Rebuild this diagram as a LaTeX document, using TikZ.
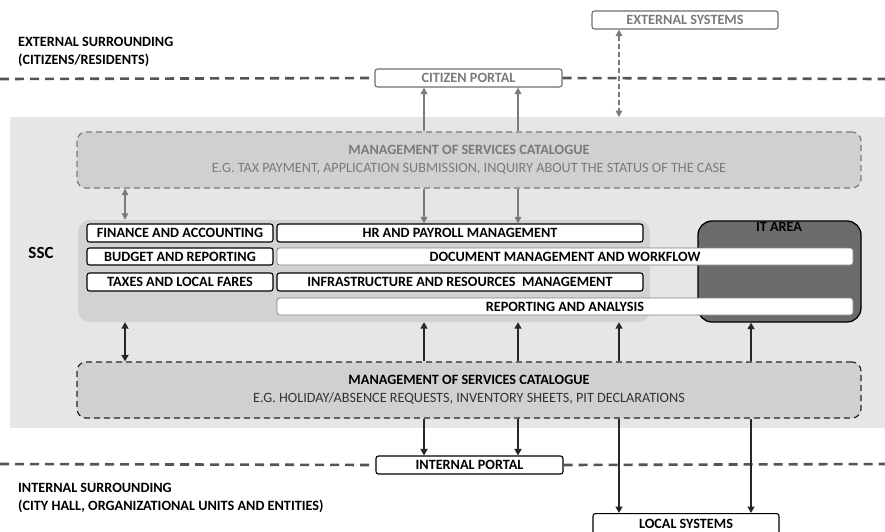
\documentclass[tikz,border=0pt]{standalone}
\usepackage{fontspec}
\setmainfont{Carlito}
\usetikzlibrary{arrows.meta}
\definecolor{bgssc}{HTML}{E6E6E6}
\definecolor{catfill}{HTML}{D0D0D0}
\definecolor{grpfill}{HTML}{D2D2D2}
\definecolor{itfill}{HTML}{6B6B6B}
\definecolor{linegray}{HTML}{555555}
\definecolor{softgray}{HTML}{7A7A7A}
\newcommand{\lbl}{\fontsize{14.2}{16}\selectfont}
\tikzset{
  box/.style={draw, rounded corners=2.5pt, inner sep=0pt, line width=1.1pt, font=\bfseries\lbl},
  modbox/.style={box, fill=white, draw=black},
  widebox/.style={box, fill=white, draw=gray, line width=0.8pt},
  portal/.style={box, fill=white},
  catbox/.style={draw, dash pattern=on 6pt off 4pt, line width=1.2pt, rounded corners=9pt, fill=catfill, inner sep=0pt, align=center, font=\fontsize{14.2}{17.5}\selectfont},
  zone/.style={draw=linegray, line width=2.6pt, dash pattern=on 9pt off 6pt},
  garrow/.style={draw=softgray, line width=2.2pt, -{Triangle[length=6.5pt,width=6.5pt]}},
  barrow/.style={draw=black!85, line width=2.8pt, -{Triangle[length=6.5pt,width=7pt]}},
  zonelabel/.style={anchor=west, align=left, font=\bfseries\fontsize{14.2}{18.5}\selectfont, inner sep=0pt},
}
\begin{document}
\begin{tikzpicture}[x=1pt, y=-1pt]
\clip (0,0) rectangle (885,531);
\fill[white] (0,0) rectangle (885,531);

% shared services centre background
\fill[bgssc] (10,117) rectangle (890,428);
\node[font=\bfseries\fontsize{17}{19}\selectfont] (ssc) at (41,253) {SSC};

% zone labels
\node[zonelabel] (ext) at (18,52) {EXTERNAL SURROUNDING\\(CITIZENS/RESIDENTS)};
\node[zonelabel] (int) at (18,498) {INTERNAL SURROUNDING\\(CITY HALL, ORGANIZATIONAL UNITS AND ENTITIES)};

% portals and outer systems
\node[portal, draw=softgray!90!black, text=softgray, minimum width=187pt, minimum height=18pt] (citportal) at (468.5,78) {CITIZEN PORTAL};
\node[portal, draw=softgray!90!black, text=softgray, minimum width=186pt, minimum height=18pt] (extsys) at (685,20) {EXTERNAL SYSTEMS};
\node[portal, draw=black, minimum width=187pt, minimum height=18pt] (intportal) at (469.5,465) {INTERNAL PORTAL};
\node[portal, draw=black, minimum width=186pt, minimum height=24pt, anchor=north] (localsys) at (686,513) {\raisebox{3pt}{LOCAL SYSTEMS}};

% zone boundaries
\draw[zone] (0,79) -- (citportal.west);
\draw[zone] (citportal.east) -- (885,79);
\draw[zone] (0,464) -- (intportal.west);
\draw[zone] (intportal.east) -- (885,464);

% services catalogues
\node[catbox, draw=softgray, text=softgray, minimum width=784pt, minimum height=56pt] (catup) at (469,160)
  {\textbf{MANAGEMENT OF SERVICES CATALOGUE}\\
   E.G. TAX PAYMENT, APPLICATION SUBMISSION, INQUIRY ABOUT THE STATUS OF THE CASE};
\node[catbox, draw=black!85, minimum width=784pt, minimum height=56pt] (catlow) at (469,390)
  {\textbf{MANAGEMENT OF SERVICES CATALOGUE}\\
   \textcolor{black!80}{E.G. HOLIDAY/ABSENCE REQUESTS, INVENTORY SHEETS, PIT DECLARATIONS}};

% functional group and IT area
\node[fill=grpfill, rounded corners=12pt, minimum width=572pt, minimum height=102pt, inner sep=0pt] (group) at (364,271) {};
\node[fill=itfill, draw=black, line width=1.3pt, rounded corners=14pt, minimum width=163pt, minimum height=101pt, inner sep=0pt] (itarea) at (779.5,271.5) {};
\node[font=\bfseries\lbl, anchor=north, inner sep=0pt] (itlabel) at (779,222.5) {IT AREA};

% functional modules
\node[modbox, minimum width=186pt, minimum height=18pt] (finance) at (180,233) {FINANCE AND ACCOUNTING};
\node[modbox, minimum width=186pt, minimum height=17pt] (budget) at (180,256.5) {BUDGET AND REPORTING};
\node[modbox, minimum width=186pt, minimum height=18pt] (taxes) at (180,282) {TAXES AND LOCAL FARES};
\node[modbox, minimum width=366pt, minimum height=18pt] (hr) at (460,233) {HR AND PAYROLL MANAGEMENT};
\node[widebox, minimum width=576pt, minimum height=17pt] (doc) at (565,256.5) {DOCUMENT MANAGEMENT AND WORKFLOW};
\node[modbox, minimum width=366pt, minimum height=18pt] (infra) at (460,282) {INFRASTRUCTURE AND RESOURCES\ \ MANAGEMENT};
\node[widebox, minimum width=576pt, minimum height=17pt] (report) at (565,306.5) {REPORTING AND ANALYSIS};

% connector columns
\coordinate (xa) at (125,0);
\coordinate (xb) at (424,0);
\coordinate (xc) at (518,0);
\coordinate (xd) at (619,0);
\coordinate (xe) at (751,0);

% citizen side
\draw[garrow] (catup.north -| xb) -- (citportal.south -| xb);
\draw[garrow] (catup.north -| xc) -- (citportal.south -| xc);
\draw[garrow] (catup.south -| xb) -- (hr.north -| xb);
\draw[garrow] (catup.south -| xc) -- (hr.north -| xc);
\draw[garrow, {Triangle[length=6.5pt,width=6.5pt]}-{Triangle[length=6.5pt,width=6.5pt]}] (catup.south -| xa) -- (group.north -| xa);
\coordinate (sscTop) at (xd |- 0,117);
\draw[draw=softgray, line width=2.2pt, dash pattern=on 5pt off 3pt, {Triangle[length=6.5pt,width=6.5pt]}-{Triangle[length=6.5pt,width=6.5pt]}] (extsys.south -| xd) -- (sscTop);

% internal side
\draw[barrow, {Triangle[length=6.5pt,width=7pt]}-{Triangle[length=6.5pt,width=7pt]}] (group.south -| xa) -- (catlow.north -| xa);
\draw[barrow] (catlow.north -| xb) -- (group.south -| xb);
\draw[barrow] (catlow.north -| xc) -- (group.south -| xc);
\draw[barrow] (catlow.north -| xd) -- (group.south -| xd);
\draw[barrow] (catlow.north -| xe) -- (itarea.south -| xe);
\draw[barrow] (catlow.south -| xb) -- (intportal.north -| xb);
\draw[barrow] (catlow.south -| xc) -- (intportal.north -| xc);
\draw[barrow] (catlow.south -| xd) -- (localsys.north -| xd);
\draw[barrow] (catlow.south -| xe) -- (localsys.north -| xe);
\end{tikzpicture}
\end{document}
